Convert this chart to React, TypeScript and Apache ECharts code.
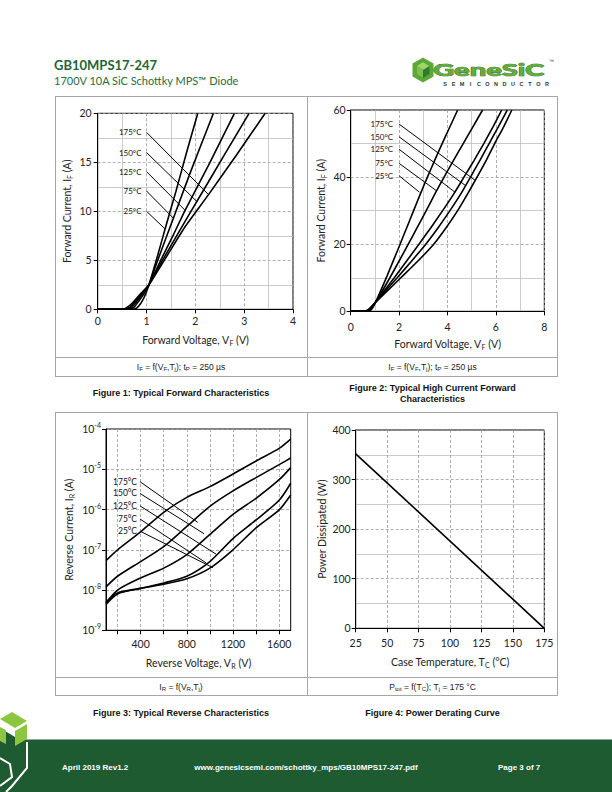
import React, { useEffect, useRef } from "react";
import * as echarts from "echarts";

// ---------------- data ----------------
const tempLabels = ["25°C", "75°C", "125°C", "150°C", "175°C"];

// Figure 1: typical forward characteristics, [V_F (V), I_F (A)]
const fig1_25C = [[0, 0], [0.7, 0], [0.8, 0.15], [0.88, 0.6], [0.95, 1.2], [1.05, 2.5], [1.2, 5.0], [1.38, 8.2], [1.6, 12.0], [1.82, 16.0], [2.05, 20]];
const fig1_75C = [[0, 0], [0.65, 0], [0.75, 0.25], [0.85, 0.9], [0.95, 1.6], [1.05, 2.5], [1.2, 4.6], [1.4, 7.3], [1.55, 9.3], [1.9, 14.0], [2.37, 20]];
const fig1_125C = [[0, 0], [0.6, 0], [0.7, 0.25], [0.8, 0.8], [0.92, 1.6], [1.05, 2.5], [1.3, 5.1], [1.55, 7.6], [1.79, 10.1], [2.3, 15.0], [2.8, 20]];
const fig1_150C = [[0, 0], [0.55, 0], [0.65, 0.2], [0.75, 0.7], [0.9, 1.6], [1.05, 2.5], [1.35, 5.2], [1.7, 8.2], [2.03, 11.0], [2.6, 15.8], [3.1, 20]];
const fig1_175C = [[0, 0], [0.5, 0], [0.6, 0.2], [0.72, 0.7], [0.88, 1.6], [1.05, 2.5], [1.4, 5.3], [1.8, 8.5], [2.27, 11.7], [2.85, 15.8], [3.43, 20]];
const fig1LeaderStart = [[1.0, 10.0], [1.0, 12.07], [1.0, 14.05], [1.0, 16.0], [1.0, 18.06]];
const fig1LeaderEnd = [[1.38, 8.2], [1.55, 9.3], [1.79, 10.1], [2.03, 11.0], [2.27, 11.7]];

// Figure 2: typical high current forward characteristics
const fig2_25C = [[0, 0], [0.7, 0], [0.85, 0.5], [1.0, 2.3], [1.5, 10.5], [2.04, 20], [2.32, 25], [2.6, 30], [2.88, 35], [3.17, 40], [3.47, 45], [3.78, 50], [4.1, 55], [4.42, 60]];
const fig2_75C = [[0, 0], [0.65, 0], [0.8, 0.5], [1.0, 2.4], [1.62, 10], [2.38, 20], [2.75, 25], [3.12, 30], [3.48, 35], [3.86, 40], [4.25, 45], [4.65, 50], [5.05, 55], [5.45, 60]];
const fig2_125C = [[0, 0], [0.6, 0], [0.78, 0.5], [1.0, 2.5], [1.8, 10], [2.82, 20], [3.32, 25], [3.8, 30], [4.26, 35], [4.68, 40], [5.1, 45], [5.5, 50], [5.88, 55], [6.24, 60]];
const fig2_150C = [[0, 0], [0.55, 0], [0.75, 0.5], [1.0, 2.5], [1.92, 10], [2.52, 15], [3.1, 20], [3.62, 25], [4.1, 30], [4.55, 35], [4.95, 40], [5.34, 45], [5.72, 50], [6.1, 55], [6.47, 60]];
const fig2_175C = [[0, 0], [0.5, 0], [0.72, 0.5], [1.0, 2.5], [2.07, 10], [2.78, 15], [3.43, 20], [3.95, 25], [4.42, 30], [4.83, 35], [5.22, 40], [5.6, 45], [5.95, 50], [6.32, 55], [6.66, 60]];
const fig2LeaderStart = [[2.0, 40.4], [2.0, 44.1], [2.0, 48.3], [2.0, 52.0], [2.0, 55.8]];
const fig2LeaderEnd = [[2.84, 35.5], [3.55, 35.9], [4.31, 35.5], [4.76, 37.4], [5.15, 39.0]];

// Figure 3: typical reverse characteristics, [V_R (V), I_R (A)]
const fig3_25C = [[100, 4.4e-9], [200, 8.0e-9], [400, 1.1e-8], [600, 1.4e-8], [800, 1.9e-8], [1000, 3.5e-8], [1200, 1.0e-7], [1400, 3.5e-7], [1600, 9.8e-7], [1700, 2.3e-6]];
const fig3_75C = [[100, 5.0e-9], [200, 8.5e-9], [400, 1.1e-8], [600, 1.5e-8], [800, 2.2e-8], [1000, 5.1e-8], [1200, 1.9e-7], [1400, 5.5e-7], [1600, 1.7e-6], [1700, 4.5e-6]];
const fig3_125C = [[100, 4.8e-9], [200, 1.0e-8], [400, 2.0e-8], [600, 3.5e-8], [800, 7.6e-8], [1000, 2.4e-7], [1200, 7.6e-7], [1400, 1.9e-6], [1600, 5.5e-6], [1700, 1.1e-5]];
const fig3_150C = [[100, 1.2e-8], [200, 2.2e-8], [400, 5.1e-8], [600, 1.2e-7], [800, 3.8e-7], [1000, 1.2e-6], [1200, 2.9e-6], [1400, 6.2e-6], [1600, 1.3e-5], [1700, 1.9e-5]];
const fig3_175C = [[100, 5.4e-8], [200, 1.0e-7], [400, 2.8e-7], [600, 8.5e-7], [800, 2.0e-6], [1000, 3.7e-6], [1200, 7.6e-6], [1400, 1.6e-5], [1600, 3.3e-5], [1700, 5.6e-5]];
const fig3LeaderStart = [[395, 2.9e-7], [395, 5.8e-7], [395, 1.23e-6], [395, 2.5e-6], [395, 4.9e-6]];
const fig3LeaderEnd = [[1026, 3.6e-8], [968, 4.7e-8], [1053, 7.8e-8], [950, 2.5e-7], [895, 4.8e-7]];
const fig3TickValues = [200, 400, 600, 800, 1000, 1200, 1400, 1600];
const fig3LabelValues = [400, 800, 1200, 1600];
const fig3MinorGrid = [-9, -8, -7, -6, -5].flatMap((e) => [2, 3, 4, 5, 6, 7, 8, 9].map((m) => m * Math.pow(10, e)));

// Figure 4: power derating curve
const fig4CaseTemp = [25, 175];
const fig4Power = [352, 0];

// ---------------- styling ----------------
const CAL = "Lato, 'Noto Sans', sans-serif";
const ARIAL = "'Liberation Sans', Arial, sans-serif";
const TXT = "#222";
const GRID_DASH = "#9a9a9a";
const GRID_MINOR = "#bdbdbd";

const subRich = {
  s: { fontSize: 7, fontFamily: CAL, color: TXT, padding: [6, 0, 0, 0] },
};

function axisBase(gridIndex: number, extra: any) {
  return {
    gridIndex,
    type: "value",
    axisLine: { show: true, onZero: false, lineStyle: { color: "#000", width: 1 } },
    axisTick: { show: true, length: 4, lineStyle: { color: "#000" } },
    axisLabel: { fontFamily: CAL, fontSize: 10.5, color: TXT },
    splitLine: { show: true, lineStyle: { color: GRID_DASH, type: [3, 2], width: 0.8 } },
    minorTick: { show: false, splitNumber: 2 },
    minorSplitLine: { show: false, lineStyle: { color: GRID_MINOR, width: 0.8 } },
    nameLocation: "middle",
    nameTextStyle: { fontFamily: CAL, fontSize: 10.5, color: TXT, rich: subRich },
    ...extra,
  };
}

function curve(data: number[][], xi: number, extra: any = {}) {
  return {
    type: "line",
    xAxisIndex: xi,
    yAxisIndex: xi,
    data,
    symbol: "none",
    smooth: 0.2,
    lineStyle: { color: "#000", width: 1.6 },
    silent: true,
    z: 3,
    ...extra,
  };
}

function leader(start: number[], end: number[], label: string, xi: number, dist: number, fs: number) {
  return {
    type: "line",
    xAxisIndex: xi,
    yAxisIndex: xi,
    symbol: "circle",
    symbolSize: 0,
    showSymbol: true,
    silent: true,
    z: 4,
    lineStyle: { color: "#000", width: 1 },
    itemStyle: { color: "#000" },
    data: [
      {
        value: start,
        label: { show: true, position: "left", distance: dist, formatter: label, fontFamily: CAL, fontSize: fs, color: "#111" },
      },
      { value: end, label: { show: false } },
    ],
  };
}

function buildOption() {
  const grids = [
    { left: 97.7, top: 113.3, width: 195.3, height: 196 },
    { left: 350.7, top: 110, width: 193.6, height: 201.3 },
    { left: 106, top: 429, width: 184.7, height: 201.3 },
    { left: 355.7, top: 430, width: 188.6, height: 198.3 },
  ].map((g) => ({ ...g, show: true, borderColor: "#000", borderWidth: 1, backgroundColor: "transparent" }));

  const xAxis = [
    axisBase(0, {
      min: 0, max: 4, interval: 1,
      axisLabel: { fontFamily: CAL, fontSize: 10.5, color: TXT, margin: 6 },
      minorSplitLine: { show: true, lineStyle: { color: GRID_MINOR, width: 0.8 } },
      name: "Forward Voltage, V{s|F} (V)", nameGap: 24,
    }),
    axisBase(1, {
      min: 0, max: 8, interval: 2,
      axisLabel: { fontFamily: CAL, fontSize: 10.5, color: TXT, margin: 10 },
      minorSplitLine: { show: true, lineStyle: { color: GRID_MINOR, width: 0.8 } },
      name: "Forward Voltage, V{s|F} (V)", nameGap: 26,
    }),
    axisBase(2, {
      min: 100, max: 1700,
      axisTick: { show: true, length: 4, lineStyle: { color: "#000" }, customValues: fig3TickValues },
      axisLabel: { fontFamily: CAL, fontSize: 10.5, color: TXT, margin: 8, customValues: fig3LabelValues, formatter: (v: number) => String(v) },
      name: "Reverse Voltage, V{s|R} (V)", nameGap: 26,
    }),
    axisBase(3, {
      min: 25, max: 175, interval: 25,
      axisLabel: { fontFamily: CAL, fontSize: 10.5, color: TXT, margin: 9 },
      name: "Case Temperature, T{s|C} (°C)", nameGap: 27,
    }),
  ];

  const yAxis = [
    axisBase(0, {
      min: 0, max: 20, interval: 5,
      axisLabel: { fontFamily: CAL, fontSize: 10.5, color: TXT, margin: 6 },
      minorSplitLine: { show: true, lineStyle: { color: GRID_MINOR, width: 0.8 } },
      name: "Forward Current, I{s|F} (A)", nameGap: 24,
    }),
    axisBase(1, {
      min: 0, max: 60, interval: 20,
      axisLabel: { fontFamily: CAL, fontSize: 10.5, color: TXT, margin: 5 },
      minorSplitLine: { show: true, lineStyle: { color: GRID_MINOR, width: 0.8 } },
      name: "Forward Current, I{s|F} (A)", nameGap: 23,
    }),
    axisBase(2, {
      type: "log", logBase: 10, min: 1e-9, max: 1e-4,
      axisLabel: {
        margin: 5,
        formatter: (v: number) => `{b|10}{e|${Math.round(Math.log10(v))}}`,
        rich: {
          b: { fontFamily: CAL, fontSize: 10.5, color: TXT },
          e: { fontFamily: CAL, fontSize: 7, color: TXT, padding: [0, 0, 8, 0] },
        },
      },
      name: "Reverse Current, I{s|R} (A)", nameGap: 31,
    }),
    axisBase(3, {
      min: 0, max: 400, interval: 100,
      axisLabel: { fontFamily: CAL, fontSize: 10.5, color: TXT, margin: 5 },
      minorSplitLine: { show: true, lineStyle: { color: GRID_MINOR, width: 0.8 } },
      name: "Power Dissipated (W)", nameGap: 28,
    }),
  ];

  const fig1 = [fig1_25C, fig1_75C, fig1_125C, fig1_150C, fig1_175C];
  const fig2 = [fig2_25C, fig2_75C, fig2_125C, fig2_150C, fig2_175C];
  const fig3 = [fig3_25C, fig3_75C, fig3_125C, fig3_150C, fig3_175C];

  const series: any[] = [];
  fig1.forEach((d) => series.push(curve(d, 0)));
  fig2.forEach((d) => series.push(curve(d, 1)));
  fig3.forEach((d) => series.push(curve(d, 2, { smooth: 0.25 })));
  series.push(curve(fig4CaseTemp.map((t, i) => [t, fig4Power[i]]), 3, { smooth: false }));

  tempLabels.forEach((lab, i) => {
    series.push(leader(fig1LeaderStart[i], fig1LeaderEnd[i], lab, 0, 5, 8));
    series.push(leader(fig2LeaderStart[i], fig2LeaderEnd[i], lab, 1, 6, 8));
    series.push(leader(fig3LeaderStart[i], fig3LeaderEnd[i], lab, 2, 3, 8.5));
  });

  // minor log grid lines for figure 3
  series.push({
    type: "line",
    xAxisIndex: 2,
    yAxisIndex: 2,
    data: [],
    z: 1,
    silent: true,
    markLine: {
      silent: true,
      symbol: ["none", "none"],
      label: { show: false },
      lineStyle: { color: GRID_MINOR, type: "solid", width: 0.7 },
      data: fig3MinorGrid.map((v) => ({ yAxis: v })),
    },
  });

  const LINE = "#a6a6a6";
  const hline = (x1: number, x2: number, y: number) => ({ type: "line", silent: true, shape: { x1, y1: y, x2, y2: y }, style: { stroke: LINE, lineWidth: 1 } });
  const vline = (x: number, y1: number, y2: number) => ({ type: "line", silent: true, shape: { x1: x, y1, x2: x, y2 }, style: { stroke: LINE, lineWidth: 1 } });

  const capRich = {
    s: { fontFamily: ARIAL, fontSize: 6, fill: "#222", padding: [5, 0, 0, 0] },
  };
  const cap = (text: string, x: number, y: number) => ({
    type: "text", silent: true, x, y,
    style: { text, fontFamily: ARIAL, fontSize: 8.5, fill: "#222", align: "center", verticalAlign: "middle", rich: capRich },
  });
  const fig = (text: string, x: number, y: number) => ({
    type: "text", silent: true, x, y,
    style: { text, fontFamily: ARIAL, fontSize: 9, fontWeight: "bold", fill: "#111", align: "center", verticalAlign: "middle" },
  });

  const semi = "SEMICONDUCTOR".split("").map((ch, i) => ({
    type: "text", silent: true, x: 445 + i * 8.5, y: 83.5,
    style: { text: ch, fontFamily: ARIAL, fontSize: 5.5, fontWeight: "bold", fill: "#333", align: "center", verticalAlign: "middle" },
  }));

  const graphic: any[] = [
    // header
    { type: "text", silent: true, x: 54, y: 64.5, style: { text: "GB10MPS17-247", fontFamily: CAL, fontSize: 13, fontWeight: "bold", fill: "#1f6632", verticalAlign: "middle" } },
    { type: "text", silent: true, x: 54, y: 80.5, style: { text: "1700V 10A SiC Schottky MPS™ Diode", fontFamily: CAL, fontSize: 11, fill: "#2a6d38", verticalAlign: "middle" } },
    // logo icon
    { type: "polygon", silent: true, shape: { points: [[423, 57.5], [433.5, 63.5], [433.5, 76.5], [423, 82.5], [412.5, 76.5], [412.5, 63.5]] }, style: { fill: "#5aa835" } },
    { type: "polygon", silent: true, shape: { points: [[423, 62], [429.5, 66], [429.5, 74], [423, 78], [416.5, 74], [416.5, 66]] }, style: { fill: "#2f7a2c" } },
    { type: "polygon", silent: true, shape: { points: [[423, 62], [429.5, 66], [423, 70], [416.5, 66]] }, style: { fill: "#9fd468" } },
    { type: "polygon", silent: true, shape: { points: [[416.5, 66], [423, 70], [423, 78], [416.5, 74]] }, style: { fill: "#7cc04a" } },
    { type: "text", silent: true, x: 433, y: 69.5, scaleX: 1.72, style: { text: "GeneSiC", fontFamily: CAL, fontSize: 17, fontWeight: 900, fill: "#62ad3a", stroke: "#2b652b", lineWidth: 0.7, verticalAlign: "middle" } },
    { type: "text", silent: true, x: 549, y: 61, style: { text: "™", fontFamily: ARIAL, fontSize: 5, fill: "#333", verticalAlign: "middle" } },
    ...semi,
    // table 1
    hline(55, 558, 96.5), hline(55, 558, 357.5), hline(55, 558, 376.5),
    vline(55.5, 96, 377), vline(557.5, 96, 377), vline(307.5, 96, 377),
    cap("I{s|F} = f(V{s|F},T{s|j}); t{s|P} = 250 µs", 181, 366.5),
    cap("I{s|F} = f(V{s|F},T{s|j}); t{s|P} = 250 µs", 432.5, 366.5),
    fig("Figure 1: Typical Forward Characteristics", 181, 393),
    fig("Figure 2: Typical High Current Forward", 432.5, 388),
    fig("Characteristics", 432.5, 399),
    // table 2
    hline(55, 558, 412.5), hline(55, 558, 677.5), hline(55, 558, 695.5),
    vline(55.5, 412, 696), vline(557.5, 412, 696), vline(307.5, 412, 696),
    cap("I{s|R} = f(V{s|R},T{s|j})", 181, 686.5),
    cap("P{s|tot} = f(T{s|C}); T{s|j} = 175 °C", 432.5, 686.5),
    fig("Figure 3: Typical Reverse Characteristics", 181, 712.5),
    fig("Figure 4: Power Derating Curve", 432.5, 712.5),
    // footer
    { type: "rect", silent: true, shape: { x: 0, y: 739.5, width: 612, height: 53 }, style: { fill: "#1e5b31" } },
    { type: "polygon", silent: true, shape: { points: [[0, 728], [15, 737], [28, 744], [28, 775], [10, 792], [0, 792]] }, style: { fill: "#1e5b31" } },
    { type: "polygon", silent: true, shape: { points: [[0, 719], [12, 712], [27, 721], [15, 728]] }, style: { fill: "#8cc63f" } },
    { type: "polygon", silent: true, shape: { points: [[15, 731], [27, 724], [27, 739], [15, 746]] }, style: { fill: "#8cc63f" } },
    { type: "polygon", silent: true, shape: { points: [[0, 727], [6, 730], [6, 744], [0, 741]] }, style: { fill: "#8cc63f" } },
    { type: "polyline", silent: true, shape: { points: [[27, 742], [27, 768], [12, 786], [6, 792]] }, style: { stroke: "#fff", lineWidth: 2, fill: "none" } },
    { type: "polyline", silent: true, shape: { points: [[0, 758], [10, 764], [12, 777], [0, 786]] }, style: { stroke: "#fff", lineWidth: 2, fill: "none" } },
    { type: "text", silent: true, x: 62, y: 767, style: { text: "April 2019 Rev1.2", fontFamily: ARIAL, fontSize: 8, fontWeight: "bold", fill: "#fff", verticalAlign: "middle" } },
    { type: "text", silent: true, x: 306, y: 767, style: { text: "www.genesicsemi.com/schottky_mps/GB10MPS17-247.pdf", fontFamily: ARIAL, fontSize: 8, fontWeight: "bold", fill: "#fff", align: "center", verticalAlign: "middle" } },
    { type: "text", silent: true, x: 498, y: 767, style: { text: "Page 3 of 7", fontFamily: ARIAL, fontSize: 8, fontWeight: "bold", fill: "#fff", verticalAlign: "middle" } },
  ];

  return {
    animation: false,
    backgroundColor: "#fff",
    grid: grids,
    xAxis,
    yAxis,
    series,
    graphic,
  };
}

export default function App() {
  const ref = useRef<HTMLDivElement>(null);
  useEffect(() => {
    if (!ref.current) return;
    const chart = echarts.init(ref.current, undefined, { renderer: "svg" });
    chart.setOption(buildOption() as any);
    return () => chart.dispose();
  }, []);
  return <div ref={ref} style={{ position: "absolute", left: 0, top: 0, width: 612, height: 792 }} />;
}
